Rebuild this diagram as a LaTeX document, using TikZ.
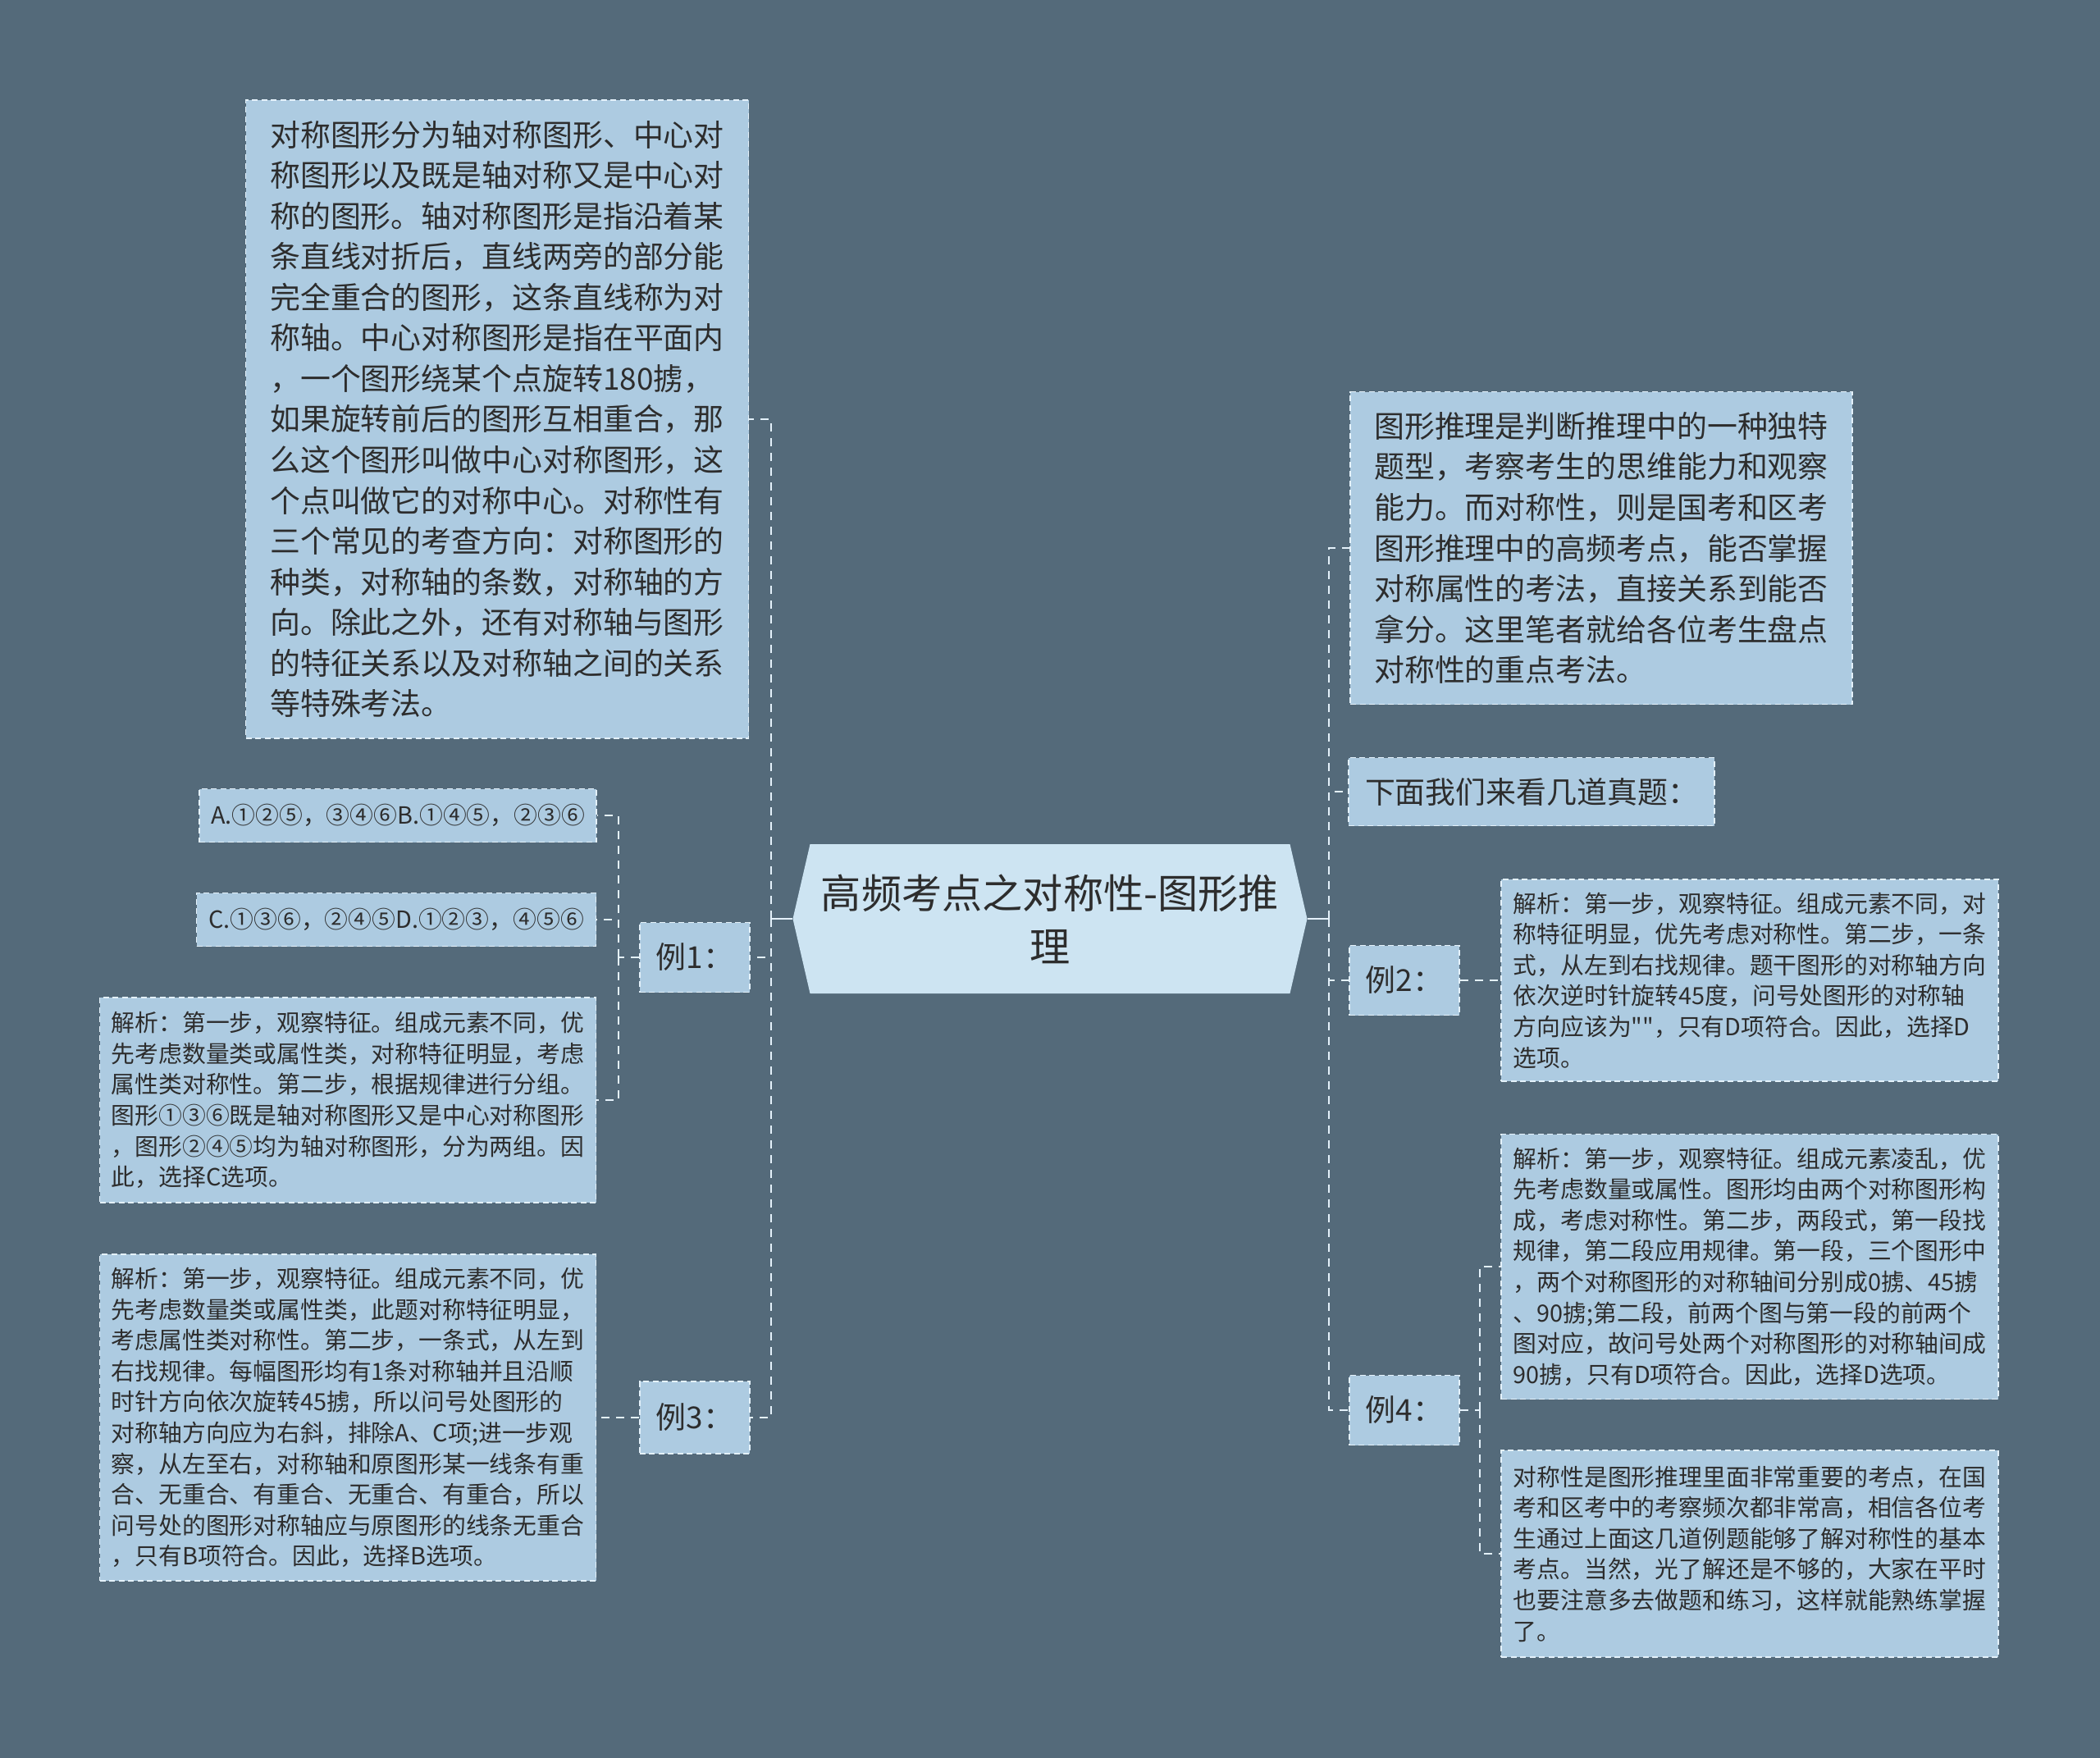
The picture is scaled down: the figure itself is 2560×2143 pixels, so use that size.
\documentclass[tikz,border=0pt]{standalone}
\usepackage{fontspec}
\setmainfont{Noto Sans CJK SC}[Ligatures=TeXOff]
\usetikzlibrary{shapes.symbols}
\definecolor{bgcol}{HTML}{546A7A}
\definecolor{boxcol}{HTML}{ADCBE1}
\definecolor{rootcol}{HTML}{CDE4F2}
\definecolor{edgecol}{HTML}{E4F1FA}
\definecolor{textcol}{HTML}{2D2D2D}

\begin{document}
\begin{tikzpicture}[
  x=0.1mm,y=-0.1mm,
  every node/.style={draw=edgecol,fill=boxcol,text=textcol,line width=0.5pt,
    dash pattern=on 0.7mm off 0.45mm,inner xsep=2mm,inner ysep=0pt,align=left,
    font=\fontsize{10.5}{14.1}\selectfont},
  small node/.append style={inner xsep=1.4mm,font=\fontsize{8.2}{10.7}\selectfont},
  root node/.append style={shape=signal,signal to=west and east,signal pointer angle=154,
    fill=rootcol,draw=none,align=center,inner xsep=0.3mm,font=\fontsize{14}{18.5}\selectfont},
  stub/.style={draw=edgecol,line width=0.8pt},
  link/.style={draw=edgecol,line width=0.8pt,dash pattern=on 1mm off 0.8mm},
  ]
  \path[use as bounding box,fill=bgcol] (0,0) rectangle (2560,2143);

  \node[minimum width=61.3mm,minimum height=77.8mm](n21) at (606,511){%
    对称图形分为轴对称图形、中心对\\称图形以及既是轴对称又是中心对\\称的图形。轴对称图形是指沿着某\\%
    条直线对折后，直线两旁的部分能\\完全重合的图形，这条直线称为对\\称轴。中心对称图形是指在平面内\\%
    ，一个图形绕某个点旋转180掳，\\如果旋转前后的图形互相重合，那\\么这个图形叫做中心对称图形，这\\%
    个点叫做它的对称中心。对称性有\\三个常见的考查方向：对称图形的\\种类，对称轴的条数，对称轴的方\\%
    向。除此之外，还有对称轴与图形\\的特征关系以及对称轴之间的关系\\等特殊考法。};
  \node[small node,minimum width=48.4mm,minimum height=6.5mm](n11) at (485,994){A.①②⑤，③④⑥B.①④⑤，②③⑥};
  \node[small node,minimum width=48.7mm,minimum height=6.5mm](n12) at (483,1121){C.①③⑥，②④⑤D.①②③，④⑤⑥};
  \node[small node,minimum width=60.5mm,minimum height=25mm](n13) at (424,1341){%
    解析：第一步，观察特征。组成元素不同，优\\先考虑数量类或属性类，对称特征明显，考虑\\%
    属性类对称性。第二步，根据规律进行分组。\\图形①③⑥既是轴对称图形又是中心对称图形\\%
    ，图形②④⑤均为轴对称图形，分为两组。因\\此，选择C选项。};
  \node[minimum width=13.1mm,minimum height=8.5mm](n22) at (847,1167){例1：};
  \node[small node,minimum width=60.5mm,minimum height=39.8mm](n14) at (424,1728){%
    解析：第一步，观察特征。组成元素不同，优\\先考虑数量类或属性类，此题对称特征明显，\\%
    考虑属性类对称性。第二步，一条式，从左到\\右找规律。每幅图形均有1条对称轴并且沿顺\\%
    时针方向依次旋转45掳，所以问号处图形的\\对称轴方向应为右斜，排除A、C项;进一步观\\%
    察，从左至右，对称轴和原图形某一线条有重\\合、无重合、有重合、无重合、有重合，所以\\%
    问号处的图形对称轴应与原图形的线条无重合\\，只有B项符合。因此，选择B选项。};
  \node[minimum width=13.1mm,minimum height=8.8mm](n23) at (847,1728){例3：};

  \node[root node,minimum width=62.7mm,minimum height=18.2mm](n31) at (1280,1120){高频考点之对称性-图形推\\理};

  \node[minimum width=61.2mm,minimum height=38.1mm](n41) at (1952,668){%
    图形推理是判断推理中的一种独特\\题型，考察考生的思维能力和观察\\能力。而对称性，则是国考和区考\\%
    图形推理中的高频考点，能否掌握\\对称属性的考法，直接关系到能否\\拿分。这里笔者就给各位考生盘点\\%
    对称性的重点考法。};
  \node[minimum width=44.2mm,minimum height=8.3mm](n42) at (1867,965){下面我们来看几道真题：};
  \node[minimum width=13.2mm,minimum height=8.5mm](n43) at (1712,1195){例2：};
  \node[minimum width=13.2mm,minimum height=8.5mm](n44) at (1712,1719){例4：};
  \node[small node,minimum width=60.6mm,minimum height=24.6mm](n51) at (2133,1195){%
    解析：第一步，观察特征。组成元素不同，对\\称特征明显，优先考虑对称性。第二步，一条\\%
    式，从左到右找规律。题干图形的对称轴方向\\依次逆时针旋转45度，问号处图形的对称轴\\%
    方向应该为""，只有D项符合。因此，选择D\\选项。};
  \node[small node,minimum width=60.6mm,minimum height=32.3mm](n52) at (2133,1544){%
    解析：第一步，观察特征。组成元素凌乱，优\\先考虑数量或属性。图形均由两个对称图形构\\%
    成，考虑对称性。第二步，两段式，第一段找\\规律，第二段应用规律。第一段，三个图形中\\%
    ，两个对称图形的对称轴间分别成0掳、45掳\\、90掳;第二段，前两个图与第一段的前两个\\%
    图对应，故问号处两个对称图形的对称轴间成\\90掳，只有D项符合。因此，选择D选项。};
  \node[small node,minimum width=60.6mm,minimum height=25.2mm](n53) at (2133,1894){%
    对称性是图形推理里面非常重要的考点，在国\\考和区考中的考察频次都非常高，相信各位考\\%
    生通过上面这几道例题能够了解对称性的基本\\考点。当然，光了解还是不够的，大家在平时\\%
    也要注意多去做题和练习，这样就能熟练掌握\\了。};

  \coordinate (c1) at (940,1120);
  \coordinate (c2) at (754,1167);
  \coordinate (c4) at (1620,1120);
  \coordinate (c5) at (1804,1719);
  \draw[stub] (n31.west) -- (c1) (n31.east) -- (c4);
  \draw[link]
  (c1) |- (n21.east)
  (c1) |- (n22.east)
  (c1) |- (n23.east)
  (n22.west) -- (c2)
  (c2) |- (n11.east)
  (c2) |- (n12.east)
  (c2) |- (n13.east)
  (n23.west) -- (n14.east)
  (c4) |- (n41.west)
  (c4) |- (n42.west)
  (c4) |- (n43.west)
  (c4) |- (n44.west)
  (n43.east) -- (n51.west)
  (n44.east) -- (c5)
  (c5) |- (n52.west)
  (c5) |- (n53.west);
\end{tikzpicture}
\end{document}
